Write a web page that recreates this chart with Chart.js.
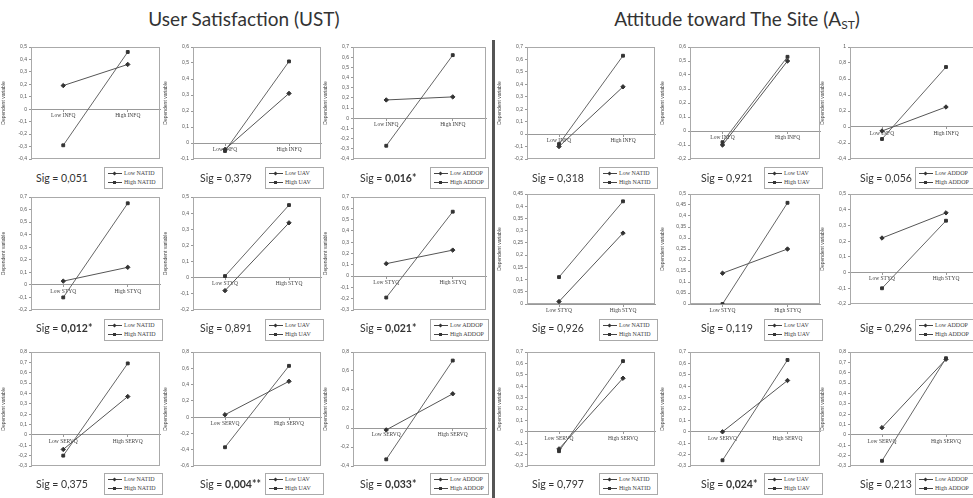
<!DOCTYPE html>
<html>
<head>
<meta charset="utf-8">
<script src="https://cdn.jsdelivr.net/npm/chart.js@4.4.1/dist/chart.umd.min.js"></script>
<style>
  body { margin: 0; background: #fff; width: 973px; height: 498px; overflow: hidden; position: relative; font-family: Lato, "Open Sans", sans-serif; }
  .title { position: absolute; top: 8px; line-height: 22px; font-size: 19px; color: #333; transform: translateX(-50%); white-space: nowrap; }
  .title sub { font-size: 12px; vertical-align: -3px; line-height: 0; }
  .divider { position: absolute; left: 492px; top: 40px; width: 3px; height: 458px; background: #555; }
  canvas { position: absolute; }
  .sig { position: absolute; font-size: 10.5px; line-height: 14px; color: #333; white-space: nowrap; }
  .legend { position: absolute; border: 1px solid #aaa; background: #fff; font-family: "Liberation Serif", serif; font-size: 6px; color: #444; padding: 1px 3px; box-sizing: border-box; }
  .legend .row { height: 9px; line-height: 9px; white-space: nowrap; }
  .legend .sym { display: inline-block; position: relative; width: 14px; height: 9px; margin-right: 2px; vertical-align: top; }
  .legend .sym::before { content: ""; position: absolute; left: 0; right: 0; top: 4px; height: 1px; background: #444; }
  .legend .sym i { position: absolute; left: 5px; top: 3px; width: 3px; height: 3px; background: #333; }
  .legend .sym i.dia { transform: rotate(45deg); }
</style>
</head>
<body>
<div class="title" style="left:244px">User Satisfaction (UST)</div>
<div class="title" style="left:737px">Attitude toward The Site (A<sub>ST</sub>)</div>
<div class="divider"></div>
<script>
// x categories for each row of panels
const rowCategories = [
  ['Low INFQ', 'High INFQ'],
  ['Low STYQ', 'High STYQ'],
  ['Low SERVQ', 'High SERVQ']
];
// moderator for each column of panels
const moderators = ['NATID', 'UAV', 'ADDOP'];

// User Satisfaction panels, row by row (INFQ, STYQ, SERVQ) x (NATID, UAV, ADDOP)
const ustLow = [
  [0.19, 0.36], [-0.04, 0.31], [0.18, 0.21],
  [0.03, 0.14], [-0.08, 0.34], [0.11, 0.23],
  [-0.14, 0.37], [0.03, 0.44], [-0.02, 0.36]
];
const ustHigh = [
  [-0.29, 0.46], [-0.05, 0.51], [-0.27, 0.62],
  [-0.10, 0.65], [0.01, 0.45], [-0.19, 0.57],
  [-0.20, 0.69], [-0.37, 0.63], [-0.33, 0.71]
];
// y axis [min, max, step]
const ustAxes = [
  [-0.4, 0.5, 0.1], [-0.1, 0.6, 0.1], [-0.4, 0.7, 0.1],
  [-0.2, 0.7, 0.1], [-0.2, 0.5, 0.1], [-0.3, 0.7, 0.1],
  [-0.3, 0.8, 0.1], [-0.6, 0.8, 0.2], [-0.4, 0.8, 0.2]
];
const ustSig = ['0,051', '0,379', '0,016*', '0,012*', '0,891', '0,021*', '0,375', '0,004**', '0,033*'];

// Attitude toward the site panels
const astLow = [
  [-0.10, 0.38], [-0.10, 0.50], [-0.05, 0.25],
  [0.01, 0.29], [0.14, 0.25], [0.22, 0.38],
  [-0.15, 0.47], [0.00, 0.45], [0.07, 0.73]
];
const astHigh = [
  [-0.08, 0.63], [-0.08, 0.53], [-0.15, 0.75],
  [0.11, 0.42], [0.00, 0.46], [-0.10, 0.33],
  [-0.17, 0.62], [-0.25, 0.63], [-0.25, 0.74]
];
const astAxes = [
  [-0.2, 0.7, 0.1], [-0.2, 0.6, 0.1], [-0.4, 1.0, 0.2],
  [0, 0.45, 0.05], [0, 0.5, 0.05], [-0.2, 0.5, 0.1],
  [-0.3, 0.7, 0.1], [-0.3, 0.7, 0.1], [-0.3, 0.8, 0.1]
];
const astSig = ['0,318', '0,921', '0,056', '0,926', '0,119', '0,296', '0,797', '0,024*', '0,213'];

// layout of the plot boxes
const ustCols = [[31, 131], [193, 130], [353, 135]];
const astCols = [[527, 130], [690, 132], [850, 130]];
const ustSigX = [36, 200, 360];
const astSigX = [532, 701, 860];
const ustRows = [[47, 112], [197, 113], [352, 114]];
const astRows = [[47, 112], [194, 110], [352, 114]];
const sigRows = [171, 321, 477];
const legendRows = [167, 319, 473];

const boxPlugin = {
  id: 'box',
  beforeDatasetsDraw(chart) {
    const { ctx, chartArea: a } = chart;
    ctx.save();
    ctx.strokeStyle = '#aaa';
    ctx.lineWidth = 1;
    ctx.strokeRect(Math.round(a.left) + 0.5, Math.round(a.top) + 0.5, Math.round(a.width) - 1, Math.round(a.height) - 1);
    ctx.restore();
  }
};

function fmt(v) {
  const r = Math.round(v * 100) / 100;
  return r === 0 ? '0' : String(r).replace('.', ',');
}

function makePanel(x, y, w, h, cats, low, high, axis, mod) {
  const W = 30, PT = 5, PB = 12, PR = 3;
  const cv = document.createElement('canvas');
  cv.width = w + W + PR;
  cv.height = h + PT + PB;
  cv.style.left = (x - W) + 'px';
  cv.style.top = (y - PT) + 'px';
  document.body.appendChild(cv);

  new Chart(cv, {
    type: 'line',
    data: {
      labels: cats,
      datasets: [
        { label: 'Low ' + mod, data: low, borderColor: '#555', backgroundColor: '#333', pointBorderColor: '#333',
          pointStyle: 'rectRot', pointRadius: 2.2, borderWidth: 1 },
        { label: 'High ' + mod, data: high, borderColor: '#666', backgroundColor: '#333', pointBorderColor: '#333',
          pointStyle: 'rect', pointRadius: 2, borderWidth: 1 }
      ]
    },
    options: {
      responsive: false,
      animation: false,
      devicePixelRatio: 1,
      layout: { padding: { top: PT, bottom: PB, right: PR, left: 0 } },
      plugins: { legend: { display: false }, tooltip: { enabled: false } },
      scales: {
        x: {
          position: { y: 0 },
          offset: true,
          grid: { display: true, drawOnChartArea: false, tickLength: 2, color: '#999' },
          border: { color: '#999' },
          ticks: { font: { size: 5.5, family: 'Liberation Serif' }, color: '#444', padding: 1, maxRotation: 0, autoSkip: false }
        },
        y: {
          min: axis[0],
          max: axis[1],
          ticks: { stepSize: axis[2], autoSkip: false, font: { size: 5 }, color: '#555', padding: 2, callback: fmt },
          grid: { drawOnChartArea: false, tickLength: 2, color: '#999' },
          border: { color: '#aaa' },
          title: { display: true, text: 'Dependent variable', font: { size: 5 }, padding: 0, color: '#444' },
          afterFit: s => { s.width = W; }
        }
      }
    },
    plugins: [boxPlugin]
  });
}

function makeText(x, top, sig) {
  const d = document.createElement('div');
  d.className = 'sig';
  d.style.left = x + 'px';
  d.style.top = top + 'px';
  if (sig.includes('*')) {
    d.innerHTML = 'Sig = <b>' + sig + '</b>';
  } else {
    d.textContent = 'Sig = ' + sig;
  }
  document.body.appendChild(d);
}

function makeLegend(right, top, mod) {
  const d = document.createElement('div');
  d.className = 'legend';
  d.style.left = (Math.min(right, 974) - 59) + 'px';
  d.style.top = top + 'px';
  d.style.width = '59px';
  d.innerHTML =
    '<div class="row"><span class="sym"><i class="dia"></i></span>Low ' + mod + '</div>' +
    '<div class="row"><span class="sym"><i></i></span>High ' + mod + '</div>';
  document.body.appendChild(d);
}

function buildSide(cols, rows, sigX, low, high, axes, sigs) {
  for (let r = 0; r < 3; r++) {
    for (let c = 0; c < 3; c++) {
      const i = r * 3 + c;
      const [x, w] = cols[c];
      const [y, h] = rows[r];
      makePanel(x, y, w, h, rowCategories[r], low[i], high[i], axes[i], moderators[c]);
      makeText(sigX[c], sigRows[r], sigs[i]);
      makeLegend(x + w + 1, legendRows[r], moderators[c]);
    }
  }
}

buildSide(ustCols, ustRows, ustSigX, ustLow, ustHigh, ustAxes, ustSig);
buildSide(astCols, astRows, astSigX, astLow, astHigh, astAxes, astSig);
</script>
</body>
</html>
